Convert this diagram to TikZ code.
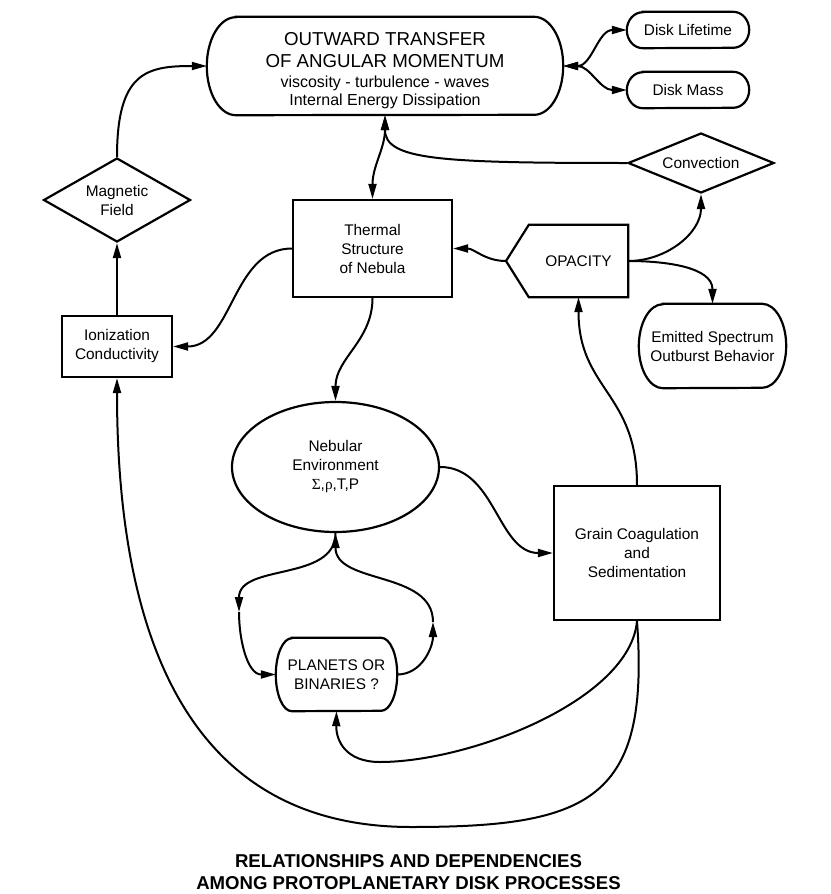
\documentclass[tikz,border=0pt]{standalone}
\usepackage{fontspec}
\setmainfont{Liberation Sans}
\newfontfamily\symfont{Liberation Serif}
\usetikzlibrary{shapes.geometric,arrows.meta}
\tikzset{
  tip/.tip={Triangle[length=15pt,width=8pt]},
  shp/.style={draw, line width=2.2pt},
  con/.style={line width=2pt, -tip},
  dcon/.style={line width=2pt, tip-tip},
  txt/.style={font=\fontsize{15.4}{19}\selectfont, align=center, inner sep=0pt},
  boxn/.style={shp, txt, rectangle},
  stad/.style={txt},
  dia/.style={shp, txt, diamond},
}
\newcommand\drawstadium[3]{%
  \draw[shp] ([xshift=#2]#1.north west) -- ([xshift=-#2]#1.north east)
    arc[start angle=90,end angle=-90,x radius=#2,y radius=#3]
    -- ([xshift=#2]#1.south west)
    arc[start angle=270,end angle=90,x radius=#2,y radius=#3] -- cycle;}
\begin{document}
\begin{tikzpicture}[x=1pt,y=-1pt]
\useasboundingbox (0,0) rectangle (830,894);
% nodes
\node[stad, minimum width=356pt, minimum height=98pt, font=\fontsize{18.7}{21.7}\selectfont] (otam) at (385,66)
  {\rule{0pt}{23pt}OUTWARD TRANSFER\\OF ANGULAR MOMENTUM\\[-2pt]\fontsize{16}{18}\selectfont viscosity - turbulence - waves\\[-3pt]\fontsize{16}{18}\selectfont Internal Energy Dissipation};
\drawstadium{otam}{29pt}{49pt}
\node[stad, minimum width=122pt, minimum height=36pt] (dlife) at (688,30) {Disk Lifetime};
\drawstadium{dlife}{16pt}{18pt}
\node[stad, minimum width=122pt, minimum height=36pt] (dmass) at (688,90) {Disk Mass};
\drawstadium{dmass}{16pt}{18pt}
\node[dia, minimum width=147pt, minimum height=84pt, aspect=1.75] (magf) at (117,200) {Magnetic\\Field};
\node[boxn, minimum width=110pt, minimum height=61pt] (ion) at (117,346.5) {Ionization\\Conductivity};
\node[boxn, minimum width=159pt, minimum height=97pt] (therm) at (372.5,248.5) {Thermal\\Structure\\of Nebula};
\node[dia, minimum width=146pt, minimum height=60pt, aspect=2.4] (conv) at (701,163) {Convection};
\node[txt, minimum width=99pt, minimum height=72pt] (opac) at (578.5,261) {OPACITY};
\coordinate (opactip) at (506,261);
\draw[shp] (opac.north west) -- (opac.north east) -- (opac.south east) -- (opac.south west) -- (opactip) -- cycle;
\node[stad, minimum width=147pt, minimum height=84pt] (emit) at (712.5,346) {Emitted Spectrum\\Outburst Behavior};
\drawstadium{emit}{24pt}{42pt}
\node[shp, txt, ellipse, minimum width=207pt, minimum height=130pt] (neb) at (335.5,467)
  {Nebular\\Environment\\{\symfont Σ},{\symfont ρ},T,P};
\node[boxn, minimum width=166pt, minimum height=134pt] (grain) at (637,553) {Grain Coagulation\\and\\Sedimentation};
\node[stad, minimum width=121pt, minimum height=73pt] (plan) at (336.5,674.5) {PLANETS OR\\BINARIES ?};
\drawstadium{plan}{16pt}{36.5pt}
\node[align=center, inner sep=0pt, font=\fontsize{18.6}{22}\selectfont\bfseries] (title) at (408.5,872)
  {RELATIONSHIPS AND DEPENDENCIES\\AMONG PROTOPLANETARY DISK PROCESSES};
\coordinate (pl) at (239,612);
\coordinate (pr) at (433,622);
% connectors
\draw[con] (magf.north) .. controls +(0,-85) and +(-60,0) .. (otam.west);
\draw[dcon] (otam.east) to[out=0,in=180] (dlife.west);
\draw[dcon] (otam.east) to[out=0,in=180] (dmass.west);
\draw[dcon] (otam.south) to[out=-90,in=90] (therm.north);
\draw[con] (conv.west) .. controls (440,163) and (385,160) .. (otam.south);
\draw[con] (opactip) to[out=180,in=0] (therm.east);
\draw[con] (opac.east) to[out=0,in=-90] (conv.south);
\draw[con] (opac.east) to[out=0,in=90] (emit.north);
\draw[con] (therm.west) to[out=180,in=0] (ion.east);
\draw[con] (ion.north) -- (magf.south);
\draw[con] (therm.south) to[out=-90,in=90] (neb.north);
\draw[con] (neb.east) to[out=0,in=180] (grain.west);
\draw[con] (grain.north) to[out=90,in=-90,looseness=1.2] (opac.south);
\draw[con] (neb.south) to[out=-90,in=90] (pl);
\draw[con] (pl) to[out=-90,in=180] (plan.west);
\draw[con] (plan.east) to[out=0,in=-90] (pr);
\draw[con] (pr) to[out=90,in=-90] (neb.south);
\draw[con] (grain.south) .. controls (630,700) and (470,762) .. (380,762) .. controls (345,762) and (336,740) .. (plan.south);
\draw[con] (grain.south) .. controls (650,800) and (590,827) .. (411,827) .. controls (190,827) and (117,640) .. (ion.south);
\end{tikzpicture}
\end{document}
